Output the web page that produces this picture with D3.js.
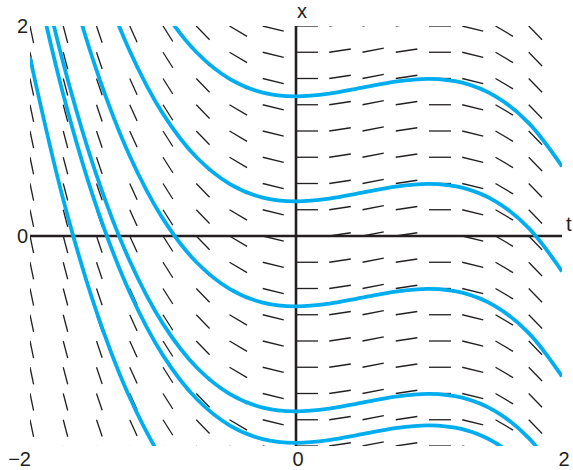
<!DOCTYPE html>
<html>
<head>
<meta charset="utf-8">
<script src="https://cdn.jsdelivr.net/npm/d3@7"></script>
<style>
  body { margin: 0; background: #fff; }
  svg text { font-family: "Liberation Sans", Arial, sans-serif; font-size: 20px; fill: #231f20; }
</style>
</head>
<body>
<svg width="573" height="470"></svg>
<script>
// slope field: one slope per column (slope depends on t only)
const fieldT = [-2, -1.75, -1.5, -1.25, -1, -0.75, -0.5, -0.25, 0, 0.25, 0.5, 0.75, 1, 1.25, 1.5, 1.75];
const fieldSlope = [-6, -4.81, -3.75, -2.81, -2, -1.31, -0.75, -0.31, 0, 0.19, 0.25, 0.19, 0, -0.31, -0.75, -1.31];
const fieldX = [-2, -1.75, -1.5, -1.25, -1, -0.75, -0.5, -0.25, 0, 0.25, 0.5, 0.75, 1, 1.25, 1.5, 1.75, 2];

// solution curves: common shape + vertical shift per curve
const curveT = [-2, -1.75, -1.5, -1.25, -1, -0.75, -0.5, -0.25, 0, 0.25, 0.5, 0.75, 1, 1.25, 1.5, 1.75, 2];
const curveShape = [4.667, 3.318, 2.25, 1.432, 0.833, 0.422, 0.167, 0.036, 0, 0.026, 0.083, 0.141, 0.167, 0.13, 0, -0.255, -0.667];
const curveShift = [1.33, 0.33, -0.67, -1.67, -1.97, -2.97];

// tick labels
const tLabels = [{v: -2, s: "\u22122"}, {v: 0, s: "0"}, {v: 2, s: "2"}];
const xLabels = [{v: 2, s: "2"}, {v: 0, s: "0"}];

const segLen = 0.165; // in data units

const svg = d3.select("svg");
const tScale = d3.scaleLinear().domain([-2, 2]).range([30, 562]);
const xScale = d3.scaleLinear().domain([-2, 2]).range([446, 26]);

svg.append("defs").append("clipPath").attr("id", "plotClip")
  .append("rect")
  .attr("x", tScale(-2)).attr("y", xScale(2))
  .attr("width", tScale(2) - tScale(-2))
  .attr("height", xScale(-2) - xScale(2));

// slope field segments
let segs = [];
fieldT.forEach(function (t, i) {
  let s = fieldSlope[i];
  let n = Math.sqrt(1 + s * s);
  fieldX.forEach(function (x) {
    segs.push({t0: t, x0: x, t1: t + segLen / n, x1: x + segLen * s / n});
  });
});

svg.append("g").attr("class", "field").attr("clip-path", "url(#plotClip)")
  .selectAll("line").data(segs).enter().append("line")
  .attr("x1", d => tScale(d.t0)).attr("y1", d => xScale(d.x0))
  .attr("x2", d => tScale(d.t1)).attr("y2", d => xScale(d.x1))
  .attr("stroke", "#231f20").attr("stroke-width", 1.3);

// axes
let axes = svg.append("g").attr("stroke", "#231f20").attr("stroke-width", 2.6);
axes.append("line")
  .attr("x1", tScale(-2)).attr("x2", tScale(2))
  .attr("y1", xScale(0)).attr("y2", xScale(0));
axes.append("line")
  .attr("x1", tScale(0)).attr("x2", tScale(0))
  .attr("y1", xScale(-2)).attr("y2", xScale(2));

// solution curves
const line = d3.line()
  .x(d => tScale(d[0]))
  .y(d => xScale(d[1]))
  .curve(d3.curveCatmullRom);

svg.append("g").attr("class", "curves").attr("clip-path", "url(#plotClip)")
  .selectAll("path").data(curveShift).enter().append("path")
  .attr("d", c => line(curveT.map((t, i) => [t, curveShape[i] + c])))
  .attr("fill", "none")
  .attr("stroke", "#00aeef")
  .attr("stroke-width", 3.8);

// labels
svg.selectAll(".xlab").data(xLabels).enter().append("text")
  .attr("x", tScale(-2) - 2).attr("y", d => xScale(d.v) + 7)
  .attr("text-anchor", "end").text(d => d.s);

svg.selectAll(".tlab").data(tLabels).enter().append("text")
  .attr("x", d => d.v === -2 ? tScale(d.v) + 1 : tScale(d.v) + 2)
  .attr("y", xScale(-2) + 20)
  .attr("text-anchor", d => d.v === -2 ? "end" : "middle")
  .text(d => d.s);

svg.append("text").attr("x", tScale(0) + 6).attr("y", 18)
  .attr("text-anchor", "middle").text("x");
svg.append("text").attr("x", tScale(2) + 4).attr("y", xScale(0) - 5)
  .text("t");
</script>
</body>
</html>
